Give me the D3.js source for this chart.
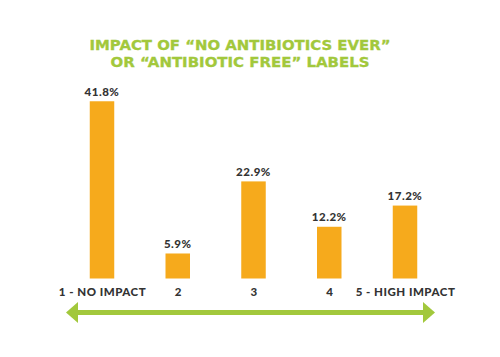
<!DOCTYPE html>
<html><head><meta charset="utf-8">
<script src="https://cdn.jsdelivr.net/npm/d3@7"></script>
<style>body{margin:0;background:#fff}svg{display:block}</style>
</head><body>
<script>
const categories = ["1 - NO IMPACT", "2", "3", "4", "5 - HIGH IMPACT"];
const values = [41.8, 5.9, 22.9, 12.2, 17.2];
const titleLines = ["IMPACT OF \u201CNO ANTIBIOTICS EVER\u201D", "OR \u201CANTIBIOTIC FREE\u201D LABELS"];

const W = 500, H = 357;
const svg = d3.select("body").append("svg").attr("width", W).attr("height", H);
const green = "#a2c83c", orange = "#f6aa1c", dark = "#333333";
const font = "'DejaVu Sans', sans-serif";
const lfont = "Lato, sans-serif";

const x = d3.scalePoint().domain(categories).range([102, 405]);
const y = d3.scaleLinear().domain([0, 45]).range([278.5, 87.7]);
const bw = 24.5;

// title
const tl = [{t: titleLines[0], y: 50, w: 301}, {t: titleLines[1], y: 67, w: 259}];
svg.selectAll("text.title").data(tl).join("text").attr("class", "title")
  .attr("x", 240).attr("y", d => d.y).attr("text-anchor", "middle")
  .attr("font-family", font).attr("font-weight", "bold").attr("font-size", 13.5)
  .attr("fill", green).attr("stroke", green).attr("stroke-width", 0.3)
  .attr("textLength", d => d.w).attr("lengthAdjust", "spacingAndGlyphs")
  .text(d => d.t);

const data = categories.map((c, i) => ({c, v: values[i]}));
svg.selectAll("rect.bar").data(data).join("rect").attr("class", "bar")
  .attr("x", d => x(d.c) - bw / 2).attr("width", bw)
  .attr("y", d => y(d.v)).attr("height", d => y(0) - y(d.v))
  .attr("fill", orange);

svg.selectAll("text.val").data(data).join("text").attr("class", "val")
  .attr("x", d => x(d.c)).attr("y", d => y(d.v) - 5.5).attr("text-anchor", "middle")
  .attr("font-family", lfont).attr("font-weight", "900").attr("font-size", 11.5)
  .attr("letter-spacing", 0.5)
  .attr("fill", dark).text(d => d.v.toFixed(1) + "%");

const xAxis = d3.axisBottom(x).tickSize(0).tickPadding(0);
const ax = svg.append("g").attr("transform", "translate(0,287.5)").call(xAxis);
ax.select(".domain").remove();
ax.selectAll("text").attr("font-family", lfont).attr("font-weight", "900")
  .attr("font-size", 11.5).attr("letter-spacing", 0.5).attr("fill", dark).attr("dy", "0.71em");

// arrow
const ay = 312.5, ax0 = 66, ax1 = 435, hl = 12, hh = 10.5;
svg.append("line").attr("x1", ax0 + 5).attr("x2", ax1 - 5).attr("y1", ay).attr("y2", ay)
  .attr("stroke", green).attr("stroke-width", 5);
svg.append("path").attr("d", `M${ax0},${ay} L${ax0 + hl},${ay - hh} L${ax0 + hl},${ay + hh} Z`).attr("fill", green);
svg.append("path").attr("d", `M${ax1},${ay} L${ax1 - hl},${ay - hh} L${ax1 - hl},${ay + hh} Z`).attr("fill", green);
</script>
</body></html>
